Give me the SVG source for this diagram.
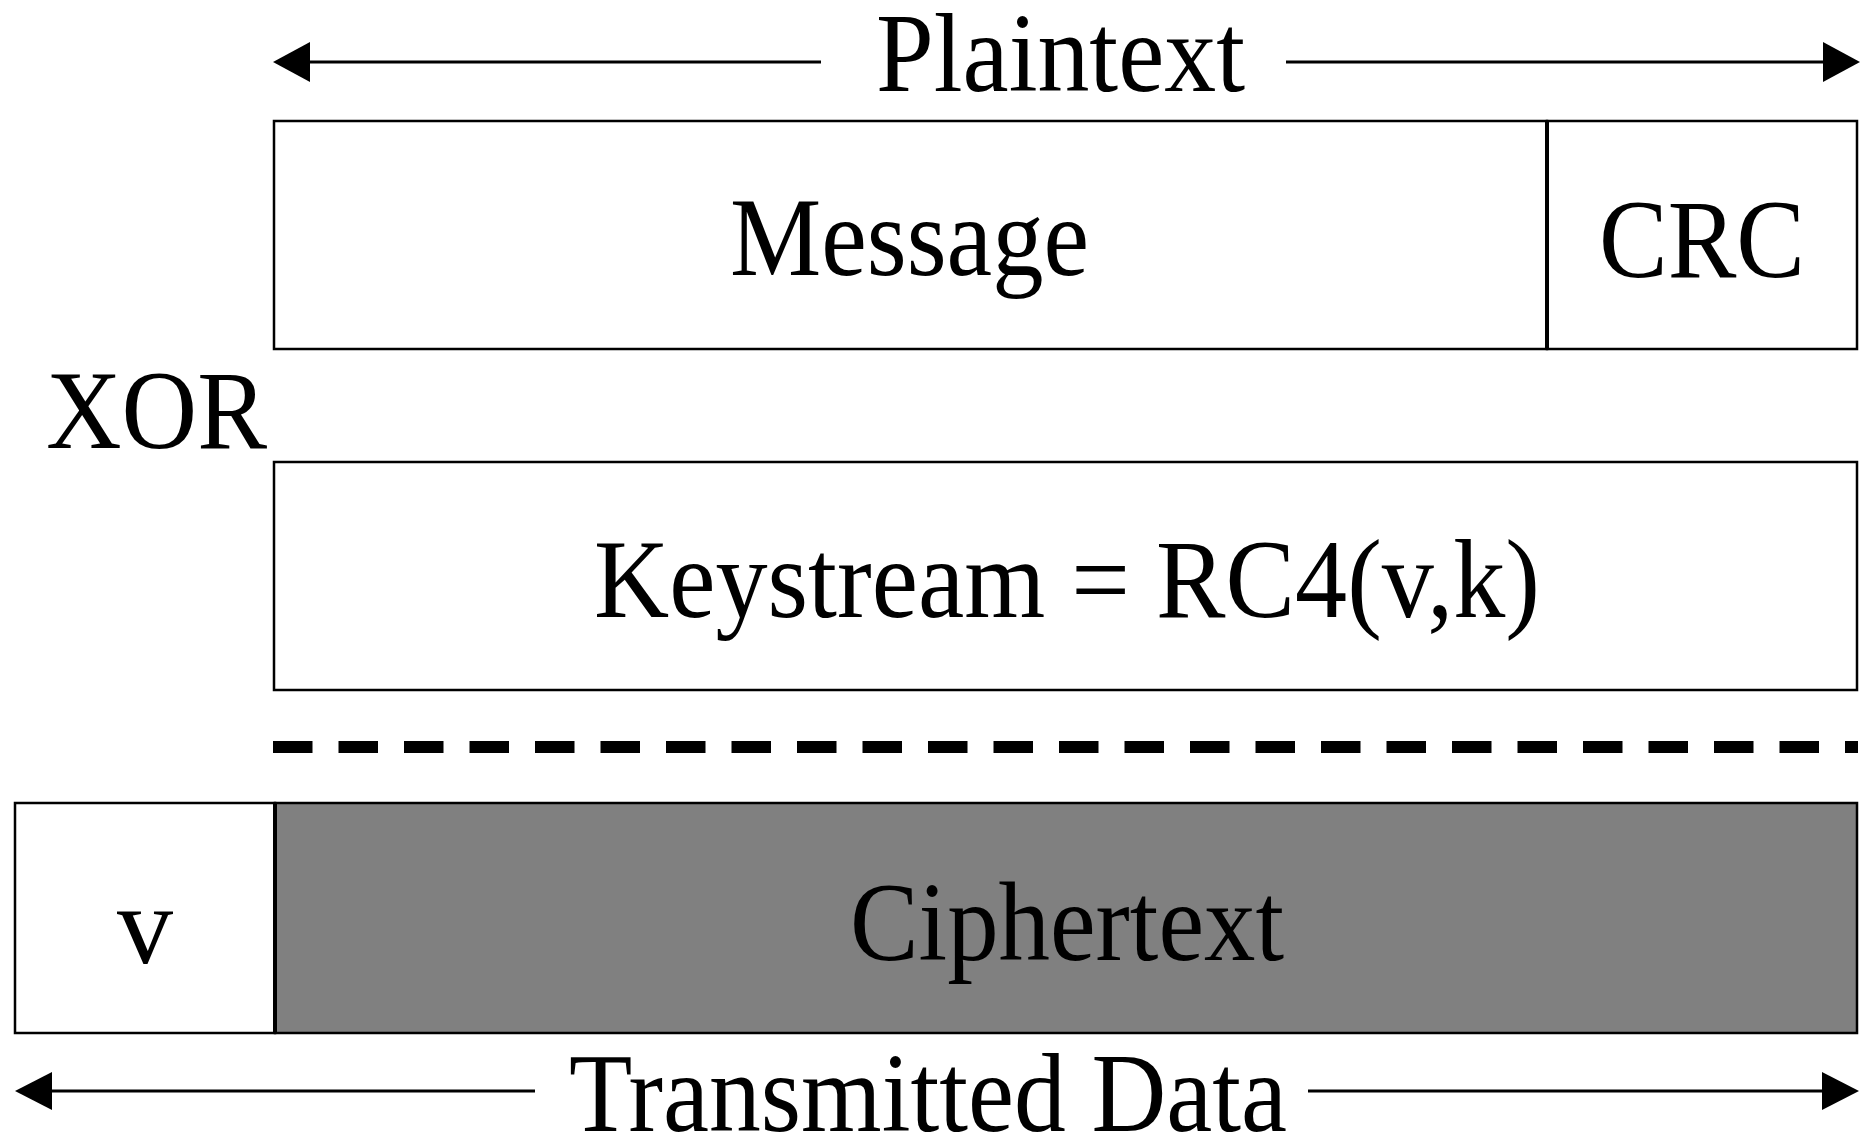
<svg xmlns="http://www.w3.org/2000/svg" width="1863" height="1140" viewBox="0 0 1863 1140">
<style>
.box{fill:#ffffff;stroke:#000;stroke-width:2.5}
.gray{fill:#808080;stroke:#000;stroke-width:2.5}
.div{stroke:#000;stroke-width:4}
.lbl{font-family:"Liberation Serif","Times New Roman",serif;font-size:112px;fill:#000}
.arr{stroke:#000;stroke-width:3;fill:none}
.head{fill:#000}
</style>
<rect width="1863" height="1140" fill="#ffffff"/>
<g id="plaintext-label">
<text class="lbl" x="876" y="91" textLength="369" lengthAdjust="spacingAndGlyphs">Plaintext</text>
</g>
<g id="message">
<rect class="box" x="274" y="121" width="1273" height="228"/>
<text class="lbl" x="730" y="275" textLength="359" lengthAdjust="spacingAndGlyphs">Message</text>
</g>
<g id="crc">
<rect class="box" x="1547" y="121" width="310" height="228"/>
<line class="div" x1="1547" y1="121" x2="1547" y2="349"/>
<text class="lbl" x="1599" y="277" textLength="206" lengthAdjust="spacingAndGlyphs">CRC</text>
</g>
<g id="xor">
<text class="lbl" x="46" y="448" textLength="221" lengthAdjust="spacingAndGlyphs">XOR</text>
</g>
<g id="keystream">
<rect class="box" x="274" y="462" width="1583" height="228"/>
<text class="lbl" x="594" y="617" textLength="946" lengthAdjust="spacingAndGlyphs">Keystream = RC4(v,k)</text>
</g>
<g id="v">
<rect class="box" x="15" y="803" width="260" height="230"/>
<text class="lbl" x="117" y="963" textLength="56" lengthAdjust="spacingAndGlyphs">v</text>
</g>
<g id="ciphertext">
<rect class="gray" x="275" y="803" width="1582" height="230"/>
<line class="div" x1="275" y1="803" x2="275" y2="1033"/>
<text class="lbl" x="850" y="960" textLength="434" lengthAdjust="spacingAndGlyphs">Ciphertext</text>
</g>
<g id="transmitted-label">
<text class="lbl" x="569" y="1131" textLength="718" lengthAdjust="spacingAndGlyphs">Transmitted Data</text>
</g>
<g id="connectors">
<line x1="273" y1="747" x2="1858" y2="747" stroke="#000" stroke-width="12" stroke-dasharray="39.5 26"/>
<line class="arr" x1="305" y1="62" x2="821" y2="62"/>
<line class="arr" x1="1286" y1="62" x2="1828" y2="62"/>
<polygon class="head" points="273,62 310,42 310,82"/>
<polygon class="head" points="1860,62 1823,42 1823,82"/>
<line class="arr" x1="48" y1="1091" x2="535" y2="1091"/>
<line class="arr" x1="1308" y1="1091" x2="1826" y2="1091"/>
<polygon class="head" points="15,1091 52,1072 52,1110"/>
<polygon class="head" points="1859,1091 1822,1072 1822,1110"/>
</g>
</svg>
